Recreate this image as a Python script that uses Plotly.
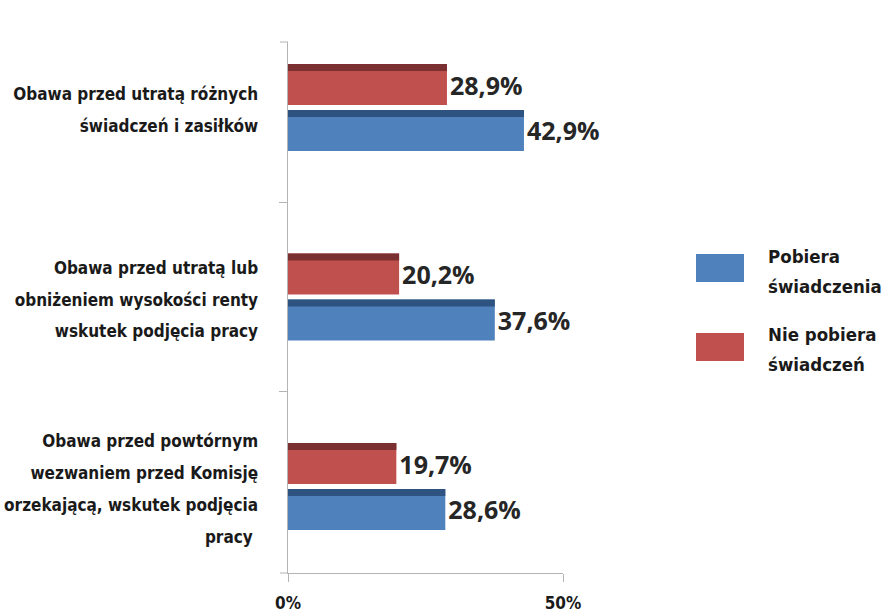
import plotly.graph_objects as go

# ---- data ----
categories = [
    "Obawa przed utratą różnych<br>świadczeń i zasiłków",
    "Obawa przed utratą lub<br>obniżeniem wysokości renty<br>wskutek podjęcia pracy",
    "Obawa przed powtórnym<br>wezwaniem przed Komisję<br>orzekającą, wskutek podjęcia<br>pracy&nbsp;",
]
pobiera = [42.9, 37.6, 28.6]        # Pobiera świadczenia
nie_pobiera = [28.9, 20.2, 19.7]    # Nie pobiera świadczeń
series_names = ["Pobiera<br>świadczenia", "Nie pobiera<br>świadczeń"]
x_ticks = [0, 50]
x_tick_labels = ["0%", "50%"]

# ---- styles ----
BLUE, BLUE_DARK = "#4F81BD", "#2E5380"
RED, RED_DARK = "#C0504D", "#7A3030"
COND = "Liberation Sans Narrow, DejaVu Sans Condensed, Arial Narrow, sans-serif"
AXIS_COL = "#B4B4B4"

FULL_W = 0.2165   # bar (front + top bevel) thickness in category units
BEVEL_W = 0.037


def spaced(text, px):
    """Wrap every line in a span of a smaller size (line spacing follows the outer font)."""
    return '<span style="font-size:%spx">%s</span>' % (
        px, text.replace("<br>", '</span><br><span style="font-size:%spx">' % px))


cat_labels = [spaced(c, 17) for c in categories]

fig = go.Figure()
label_font = dict(family="Open Sans, Lato, sans-serif", size=25, color="#262626", weight=700)

fig.add_trace(go.Bar(
    y=cat_labels, x=nie_pobiera, orientation="h", name="Nie pobiera świadczeń",
    marker=dict(color=RED, line=dict(width=0)), offset=-0.2295, width=FULL_W,
    texttemplate="%{x:.1f}%", textposition="outside", textfont=label_font,
    cliponaxis=False, hoverinfo="x",
))
fig.add_trace(go.Bar(
    y=cat_labels, x=pobiera, orientation="h", name="Pobiera świadczenia",
    marker=dict(color=BLUE, line=dict(width=0)), offset=0.013, width=FULL_W,
    texttemplate="%{x:.1f}%", textposition="outside", textfont=label_font,
    cliponaxis=False, hoverinfo="x",
))
# top bevels (3D look)
fig.add_trace(go.Bar(
    y=cat_labels, x=nie_pobiera, orientation="h", showlegend=False,
    marker=dict(color=RED_DARK, line=dict(width=0)), offset=-0.2295, width=BEVEL_W,
    hoverinfo="skip",
))
fig.add_trace(go.Bar(
    y=cat_labels, x=pobiera, orientation="h", showlegend=False,
    marker=dict(color=BLUE_DARK, line=dict(width=0)), offset=0.013, width=BEVEL_W,
    hoverinfo="skip",
))

fig.update_layout(
    width=882, height=614,
    margin=dict(l=288, r=319, t=42, b=41),
    paper_bgcolor="white", plot_bgcolor="white",
    barmode="overlay", showlegend=False,
    separators=",.",
    font=dict(family=COND, color="#1A1A1A"),
)
fig.update_xaxes(
    range=[0, 50], tickvals=x_ticks, ticktext=x_tick_labels,
    showgrid=True, gridcolor=AXIS_COL, gridwidth=1,
    showline=True, linecolor=AXIS_COL, linewidth=1,
    ticks="outside", ticklen=8, tickcolor=AXIS_COL,
    tickfont=dict(family=COND, size=17, color="#1A1A1A", weight=700),
    ticklabelstandoff=7, zeroline=False, automargin=False,
)
fig.update_yaxes(
    type="category", range=[2.4565, -0.3456],
    showgrid=False, showline=True, linecolor=AXIS_COL, linewidth=1,
    ticks="outside", ticklen=8, tickcolor=AXIS_COL, tickson="boundaries",
    tickfont=dict(family=COND, size=24.5, color="#1A1A1A", weight=700),
    ticklabelstandoff=24, zeroline=False, automargin=False,
)

# axis end ticks (top and bottom of the vertical axis)
for yy in (0, 1):
    fig.add_shape(type="line", xref="x domain", yref="y domain",
                  x0=-0.029, x1=0, y0=yy, y1=yy,
                  line=dict(color=AXIS_COL, width=1))

# manual legend
legend_items = [
    (series_names[0], BLUE, 0.6008, 0.548, 0.5687),
    (series_names[1], RED, 0.452, 0.3992, 0.42),
]
for text, col, y1, y0, ty in legend_items:
    fig.add_shape(type="rect", xref="paper", yref="paper",
                  x0=1.4836, x1=1.6582, y0=y0, y1=y1,
                  fillcolor=col, line=dict(width=0))
    fig.add_annotation(xref="paper", yref="paper", x=1.738, y=ty,
                       xanchor="left", yanchor="middle", align="left",
                       text=spaced(text, 18.5), showarrow=False,
                       font=dict(family=COND, size=23, color="#1A1A1A", weight=700))

fig.write_html("out.html", config={"displayModeBar": False},
               post_script="document.body.style.margin='0';")
